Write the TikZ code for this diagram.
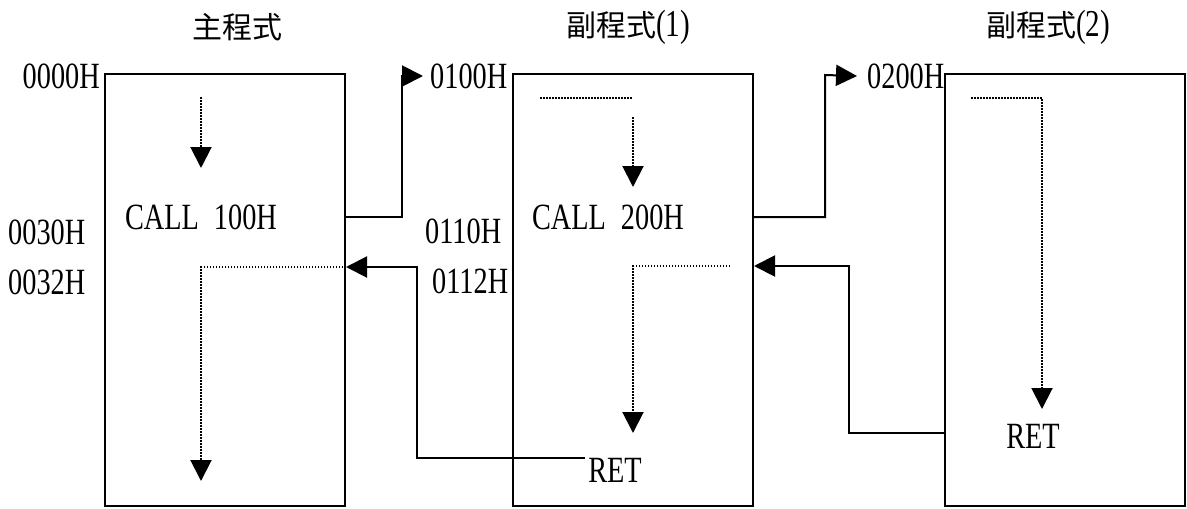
\documentclass[tikz,border=0pt]{standalone}
\usepackage{fontspec}
\setmainfont{Liberation Serif}
\newfontfamily\cjk{Noto Sans CJK TC}
\newfontfamily\lblfont[FakeStretch=0.765]{Liberation Serif}
\usetikzlibrary{arrows.meta}
\begin{document}
\begin{tikzpicture}[x=1pt,y=-1pt,
  progbox/.style={draw,line width=2pt,minimum width=240pt,minimum height=432pt,inner sep=0pt},
  addr/.style={inner sep=0pt,font=\lblfont\fontsize{37}{39}\selectfont},
  ttl/.style={inner sep=0pt,font=\cjk\fontsize{30}{32}\selectfont},
  conn/.style={line width=2pt},
  dots/.style={line width=2pt,dash pattern=on 1.5pt off 1.5pt},
  tip/.style={-{Triangle[length=21pt,width=21pt]}}]
\useasboundingbox (0,0) rectangle (1187,509);
% boxes
\node[progbox] (box1) at (225,290) {};
\node[progbox] (box2) at (633,290) {};
\node[progbox] (box3) at (1065,290) {};
% titles
\node[ttl] (t1) at (237,27) {主程式};
\node[ttl] (t2) at (628,27) {副程式{\lblfont\fontsize{38}{40}\selectfont(1)}};
\node[ttl] (t3) at (1048,27) {副程式{\lblfont\fontsize{38}{40}\selectfont(2)}};
% address labels
\node[addr,anchor=east] (a0000) at (100,76) {0000H};
\node[addr,anchor=west] (a0030) at (8,232) {0030H};
\node[addr,anchor=west] (a0032) at (8,282) {0032H};
\node[addr,anchor=west] (a0100) at (430,76) {0100H};
\node[addr,anchor=west] (a0110) at (425,231) {0110H};
\node[addr,anchor=west] (a0112) at (432,281) {0112H};
\node[addr,anchor=west] (a0200) at (867,76) {0200H};
% instructions
\node[addr] (call1) at (201,217) {CALL\hspace{15pt}100H};
\node[addr] (call2) at (608,217) {CALL\hspace{15pt}200H};
\node[addr] (ret1) at (615,470) {RET};
\node[addr] (ret2) at (1033,436) {RET};
% helper coordinates
\coordinate (c1k) at (402,76);
\coordinate (c2k) at (825,75);
\coordinate (r1s) at (585,458);
\coordinate (r1k) at (417,267);
\coordinate (r2s) at (945,433);
\coordinate (r2k) at (849,266);
% call / return connectors
\draw[conn,tip] (call1 -| box1.east) -| (c1k) -- ([xshift=-7pt]a0100.west);
\draw[conn,tip] (call2 -| box2.east) -| (c2k) -- ([xshift=-10pt]a0200.west);
\draw[conn,tip] (r1s) -| (r1k) -- (r1k -| box1.east);
\draw[conn,tip] (r2s) -| (r2k) -- (r2k -| box2.east);
% flow inside main program
\coordinate (m1a) at (201,97);
\coordinate (m1b) at (201,168);
\coordinate (m2a) at (343,267);
\coordinate (m2b) at (201,481);
\draw[dots,tip] (m1a) -- (m1b);
\draw[dots,tip] (m2a) -| (m2b);
% flow inside subroutine 1
\coordinate (s1a) at (540,98);
\coordinate (s1b) at (633,98);
\coordinate (s1c) at (633,117);
\coordinate (s1d) at (633,187);
\coordinate (s1e) at (730,266);
\coordinate (s1f) at (633,433);
\draw[dots] (s1a) -- (s1b);
\draw[dots,tip] (s1c) -- (s1d);
\draw[dots,tip] (s1e) -| (s1f);
% flow inside subroutine 2
\coordinate (s2a) at (971,98);
\coordinate (s2b) at (1042,409);
\draw[dots,tip] (s2a) -| (s2b);
\end{tikzpicture}
\end{document}
